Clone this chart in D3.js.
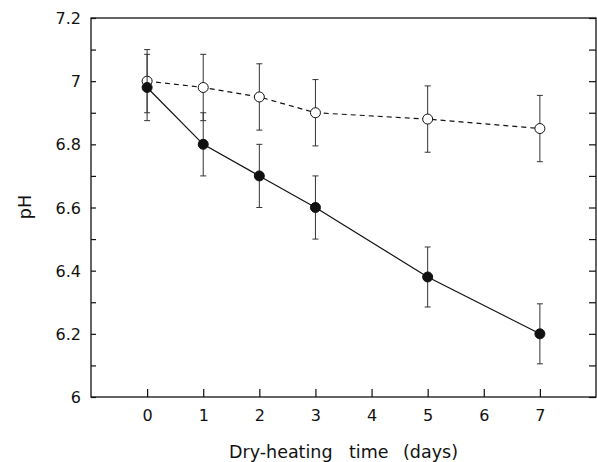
<!DOCTYPE html>
<html>
<head>
<meta charset="utf-8">
<script src="https://cdn.jsdelivr.net/npm/d3@7"></script>
<style>
  body { margin: 0; background: #fff; }
  text { font-family: "DejaVu Sans", sans-serif; fill: #111; }
</style>
</head>
<body>
<svg id="chart" width="597" height="462"></svg>
<script>
var days = [0, 1, 2, 3, 5, 7];
var phControl = [7.00, 6.98, 6.95, 6.90, 6.88, 6.85];
var errControl = [0.10, 0.105, 0.105, 0.105, 0.105, 0.105];
var phHeated = [6.98, 6.80, 6.70, 6.60, 6.38, 6.20];
var errHeated = [0.105, 0.10, 0.10, 0.10, 0.095, 0.095];
var xTicks = [0, 1, 2, 3, 4, 5, 6, 7];
var yTicks = [6, 6.2, 6.4, 6.6, 6.8, 7, 7.2];
var xTitleWords = ["Dry-heating", "time", "(days)"];

var width = 597, height = 462;
var margin = { top: 18, right: 1, bottom: 65, left: 91 };

var svg = d3.select("#chart");

var x = d3.scaleLinear()
    .domain([-1, 8])
    .range([margin.left, width - margin.right]);

var y = d3.scaleLinear()
    .domain([6, 7.2])
    .range([height - margin.bottom, margin.top]);

var minorY = d3.range(0, 13).map(i => 6 + i * 0.1);

// frame
svg.append("rect")
    .attr("x", margin.left)
    .attr("y", margin.top)
    .attr("width", width - margin.right - margin.left)
    .attr("height", height - margin.bottom - margin.top)
    .attr("fill", "none")
    .attr("stroke", "#111")
    .attr("stroke-width", 1.3);

// left axis, ticks inward
var yAxis = d3.axisLeft(y).tickValues(minorY).tickSize(-5).tickFormat("");
svg.append("g")
    .attr("transform", `translate(${margin.left},0)`)
    .call(yAxis)
    .call(g => g.select(".domain").remove());

svg.selectAll(".ylab")
    .data(yTicks)
    .enter()
    .append("text")
    .attr("x", 81)
    .attr("y", d => y(d) + 6)
    .attr("text-anchor", "end")
    .style("font-size", "16px")
    .text(d => d3.format("~g")(d));

// right axis, ticks inward
var yAxisR = d3.axisRight(y).tickValues(minorY).tickSize(-7).tickFormat("");
svg.append("g")
    .attr("transform", `translate(${width - margin.right},0)`)
    .call(yAxisR)
    .call(g => g.select(".domain").remove());

// bottom axis, ticks inward
var xAxis = d3.axisBottom(x).tickValues(xTicks).tickSize(-8).tickPadding(13).tickFormat(d3.format("d"));
svg.append("g")
    .attr("transform", `translate(0,${height - margin.bottom})`)
    .call(xAxis)
    .call(g => g.select(".domain").remove())
    .call(g => g.selectAll("text").style("font-size", "16px").style("font-family", "DejaVu Sans").attr("fill", "#111"));

svg.selectAll(".tick line").attr("stroke", "#111").attr("stroke-width", 1.2);

// axis titles
var xt = svg.append("text")
    .attr("y", 458)
    .style("font-size", "17.5px");
xt.selectAll("tspan")
    .data(xTitleWords)
    .enter()
    .append("tspan")
    .attr("x", (d, i) => [229, 349, 403][i])
    .text(d => d);

svg.append("text")
    .attr("transform", "translate(31,207) rotate(-90)")
    .attr("text-anchor", "middle")
    .style("font-size", "17.5px")
    .text("pH");

function drawSeries(vals, errs, dashed, filled) {
    var pts = days.map((d, i) => ({ d: d, v: vals[i], e: errs[i] }));

    var eb = svg.append("g");
    pts.forEach(p => {
        eb.append("line")
            .attr("x1", x(p.d)).attr("x2", x(p.d))
            .attr("y1", y(p.v + p.e)).attr("y2", y(p.v - p.e))
            .attr("stroke", "#333").attr("stroke-width", 1);
        [p.v + p.e, p.v - p.e].forEach(c => {
            eb.append("line")
                .attr("x1", x(p.d) - 3).attr("x2", x(p.d) + 3)
                .attr("y1", y(c)).attr("y2", y(c))
                .attr("stroke", "#333").attr("stroke-width", 1);
        });
    });

    var line = d3.line().x(p => x(p.d)).y(p => y(p.v));
    svg.append("path")
        .datum(pts)
        .attr("d", line)
        .attr("fill", "none")
        .attr("stroke", "#111")
        .attr("stroke-width", 1.2)
        .attr("stroke-dasharray", dashed ? "5,4" : null);

    svg.append("g")
        .selectAll("circle")
        .data(pts)
        .enter()
        .append("circle")
        .attr("cx", p => x(p.d))
        .attr("cy", p => y(p.v))
        .attr("r", 5)
        .attr("fill", filled ? "#111" : "#fff")
        .attr("stroke", "#111")
        .attr("stroke-width", 1);
}

drawSeries(phControl, errControl, true, false);
drawSeries(phHeated, errHeated, false, true);
</script>
</body>
</html>
